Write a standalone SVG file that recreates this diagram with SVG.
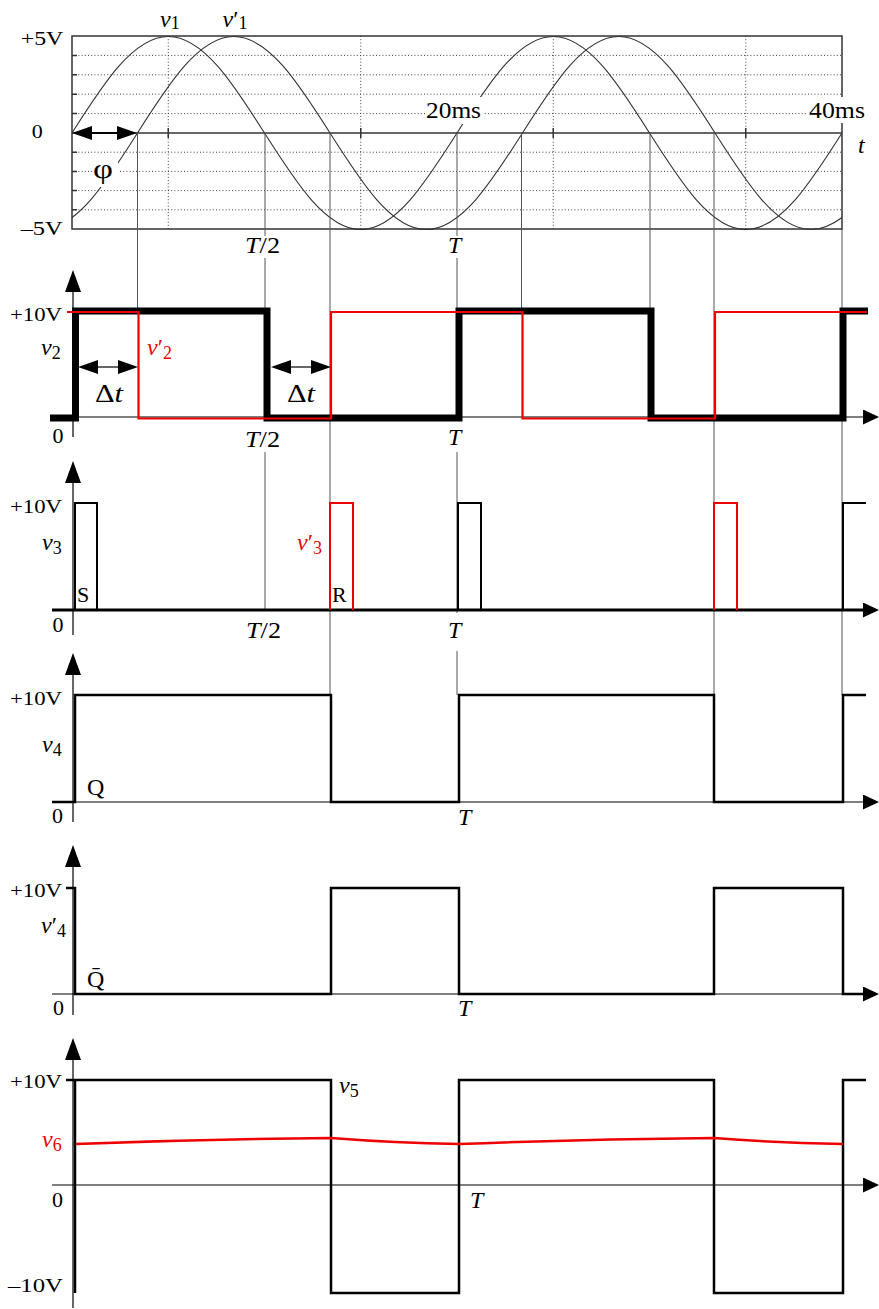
<svg xmlns="http://www.w3.org/2000/svg" width="879" height="1309" viewBox="0 0 879 1309">
<style>
.t{font-family:"Liberation Serif","Times New Roman",serif;fill:#000}
.r{fill:#e00}
.it{font-style:italic}
.sub{font-size:18px;font-style:normal}
.v{font-size:24px}
.n{font-size:19px}
.z{font-size:22px}
.T{font-size:24px;font-style:italic}
.g{stroke:#555;stroke-width:1;fill:none}
.ax{stroke:#000;stroke-width:1.2;fill:none}
.wf{stroke:#000;stroke-width:2.5;fill:none}
.wr{stroke:#e00;stroke-width:2.2;fill:none}
.dot{stroke:#444;stroke-width:1;stroke-dasharray:1 2.2;fill:none}
.sin{stroke:#333;stroke-width:1.1;fill:none}
.bx{stroke:#333;stroke-width:1.5;fill:none}
.bg{fill:#fff}
</style>
<defs>
<clipPath id="scopeclip"><rect x="72" y="30" width="770" height="205"/></clipPath>
<marker id="ya" markerUnits="userSpaceOnUse" viewBox="0 0 22 16" markerWidth="22" markerHeight="16" refX="0" refY="8" orient="auto"><path d="M0,0 L22,8 L0,16 z" fill="#000"/></marker>
<marker id="xa" markerUnits="userSpaceOnUse" viewBox="0 0 16 15" markerWidth="16" markerHeight="15" refX="0" refY="7.5" orient="auto"><path d="M0,0 L16,7.5 L0,15 z" fill="#000"/></marker>
<marker id="da" markerUnits="userSpaceOnUse" viewBox="0 0 20 14" markerWidth="20" markerHeight="14" refX="0" refY="7" orient="auto-start-reverse"><path d="M0,0 L20,7 L0,14 z" fill="#000"/></marker>
</defs>
<rect width="879" height="1309" fill="#fff"/>

<g id="scope">
  <g class="dot">
    <path d="M72,55.4H842M72,74.8H842M72,94.2H842M72,113.6H842M72,152.2H842M72,171.4H842M72,190.6H842M72,209.8H842"/>
    <path d="M168.25,36V229M360.75,36V229M553.25,36V229M745.75,36V229"/>
  </g>
  <path class="bx" d="M72,55.4h5M72,74.8h5M72,94.2h5M72,113.6h5M72,152.2h5M72,171.4h5M72,190.6h5M72,209.8h5M168.25,128v10M360.75,128v10M553.25,128v10M745.75,128v10"/>
  <rect class="bx" x="72" y="36" width="770" height="193"/>
  <line class="bx" x1="72" y1="133" x2="842" y2="133"/>
  <g clip-path="url(#scopeclip)" class="sin">
    <path id="v1" d="M72,133 c31.39,-49.44 61.41,-96.5 96.25,-96.5 c34.84,0 64.86,47.06 96.25,96.5 c31.39,49.44 61.41,96.5 96.25,96.5 c34.84,0 64.86,-47.06 96.25,-96.5 c31.39,-49.44 61.41,-96.5 96.25,-96.5 c34.84,0 64.86,47.06 96.25,96.5 c31.39,49.44 61.41,96.5 96.25,96.5 c34.84,0 64.86,-47.06 96.25,-96.5"/>
    <path id="v1p" d="M-247.5,133 c31.39,-49.44 61.41,-96.5 96.25,-96.5 c34.84,0 64.86,47.06 96.25,96.5 c31.39,49.44 61.41,96.5 96.25,96.5 c34.84,0 64.86,-47.06 96.25,-96.5 c31.39,-49.44 61.41,-96.5 96.25,-96.5 c34.84,0 64.86,47.06 96.25,96.5 c31.39,49.44 61.41,96.5 96.25,96.5 c34.84,0 64.86,-47.06 96.25,-96.5 c31.39,-49.44 61.41,-96.5 96.25,-96.5 c34.84,0 64.86,47.06 96.25,96.5 c31.39,49.44 61.41,96.5 96.25,96.5 c34.84,0 64.86,-47.06 96.25,-96.5"/>
  </g>
  <rect class="bg" x="425" y="97" width="58" height="27"/>
  <rect class="bg" x="806" y="97" width="61" height="26"/>
  <rect class="bg" x="94" y="156" width="24" height="31"/>
</g>

<g id="connectors" class="g">
  <line x1="137.5" y1="133" x2="137.5" y2="312"/>
  <line x1="265" y1="133" x2="265" y2="610"/>
  <line x1="330" y1="133" x2="330" y2="695"/>
  <line x1="457" y1="133" x2="457" y2="695"/>
  <line x1="521.5" y1="133" x2="521.5" y2="312"/>
  <line x1="650" y1="133" x2="650" y2="312"/>
  <line x1="714" y1="133" x2="714" y2="695"/>
  <line x1="842" y1="229" x2="842" y2="695"/>
</g>

<g id="label-backgrounds">
  <rect class="bg" x="243" y="236" width="40" height="22"/>
  <rect class="bg" x="446" y="236" width="19" height="22"/>
  <rect class="bg" x="243" y="420" width="40" height="32"/>
  <rect class="bg" x="446" y="420" width="19" height="32"/>
  <rect class="bg" x="446" y="613" width="19" height="38"/>
</g>

<g id="scope-labels">
  <line x1="92" y1="133" x2="117" y2="133" stroke="#000" stroke-width="2" marker-start="url(#da)" marker-end="url(#da)"/>
  <text class="t v" x="160" y="27"><tspan class="it">v</tspan><tspan class="sub" dy="2">1</tspan></text>
  <text class="t v" x="222.5" y="27"><tspan class="it">v</tspan>′<tspan class="sub" dy="2">1</tspan></text>
  <text class="t n" x="20.7" y="45" textLength="42.6" lengthAdjust="spacingAndGlyphs">+5V</text>
  <text class="t n" x="31.7" y="138.3" textLength="11" lengthAdjust="spacingAndGlyphs">0</text>
  <text class="t n" x="20.7" y="235" textLength="42" lengthAdjust="spacingAndGlyphs">–5V</text>
  <text class="t" x="93" y="178" font-size="28" textLength="20" lengthAdjust="spacingAndGlyphs">φ</text>
  <text class="t" x="245" y="253" font-size="24" textLength="35" lengthAdjust="spacingAndGlyphs"><tspan class="it">T</tspan>/2</text>
  <text class="t T" x="448" y="253">T</text>
  <text class="t" x="426" y="118" font-size="24" textLength="55" lengthAdjust="spacingAndGlyphs">20ms</text>
  <text class="t" x="809" y="118" font-size="24" textLength="56" lengthAdjust="spacingAndGlyphs">40ms</text>
  <text class="t T" x="858" y="153">t</text>
</g>

<g id="panel-v2">
  <line class="ax" x1="73" y1="437" x2="73" y2="292" marker-end="url(#ya)"/>
  <line class="ax" x1="50" y1="417" x2="863" y2="417" marker-end="url(#xa)"/>
  <path d="M50,418 H75.5 V311 H267 V418 H459 V311 H651 V418 H843 V311 H868" stroke="#000" stroke-width="7" fill="none"/>
  <path class="wr" d="M67,312 H138.5 V418.5 H331 V312 H522.5 V418.5 H715 V312 H867"/>
  <line x1="98" y1="367" x2="118" y2="367" stroke="#000" stroke-width="1.2" marker-start="url(#da)" marker-end="url(#da)"/>
  <line x1="291" y1="367" x2="311" y2="367" stroke="#000" stroke-width="1.2" marker-start="url(#da)" marker-end="url(#da)"/>
  <text class="t n" x="10" y="321" textLength="52" lengthAdjust="spacingAndGlyphs">+10V</text>
  <text class="t v" x="41" y="355"><tspan class="it">v</tspan><tspan class="sub" dy="4">2</tspan></text>
  <text class="t v r" x="147" y="355"><tspan class="it">v</tspan>′<tspan class="sub" dy="4">2</tspan></text>
  <text class="t" x="95" y="402" font-size="25" textLength="28" lengthAdjust="spacingAndGlyphs">Δ<tspan class="it">t</tspan></text>
  <text class="t" x="287" y="402" font-size="25" textLength="28" lengthAdjust="spacingAndGlyphs">Δ<tspan class="it">t</tspan></text>
  <text class="t z" x="52.5" y="443">0</text>
  <text class="t" x="245" y="447" font-size="24" textLength="35" lengthAdjust="spacingAndGlyphs"><tspan class="it">T</tspan>/2</text>
  <text class="t T" x="448" y="445">T</text>
</g>

<g id="panel-v3">
  <line class="ax" x1="73" y1="635" x2="73" y2="483" marker-end="url(#ya)"/>
  <line x1="52" y1="610" x2="863" y2="610" stroke="#000" stroke-width="3" marker-end="url(#xa)"/>
  <path stroke="#000" stroke-width="2" fill="none" d="M75,610 V503 H97 V610 M458,610 V503 H481 V610 M843,610 V503 H866"/>
  <path stroke="#e00" stroke-width="2" fill="none" d="M330,610 V503 H353 V610 M714,610 V503 H737 V610"/>
  <text class="t n" x="10" y="513" textLength="52" lengthAdjust="spacingAndGlyphs">+10V</text>
  <text class="t v" x="42" y="550"><tspan class="it">v</tspan><tspan class="sub" dy="4">3</tspan></text>
  <text class="t v r" x="297" y="550"><tspan class="it">v</tspan>′<tspan class="sub" dy="4">3</tspan></text>
  <text class="t" x="77" y="602" font-size="22">S</text>
  <text class="t" x="332" y="602" font-size="22">R</text>
  <text class="t z" x="52.5" y="632">0</text>
  <text class="t" x="246" y="638" font-size="24" textLength="35" lengthAdjust="spacingAndGlyphs"><tspan class="it">T</tspan>/2</text>
  <text class="t T" x="448" y="638">T</text>
</g>

<g id="panel-v4">
  <line class="ax" x1="73" y1="822" x2="73" y2="675" marker-end="url(#ya)"/>
  <line class="ax" x1="52" y1="802" x2="863" y2="802" marker-end="url(#xa)"/>
  <path class="wf" d="M52,802 H75 V695 H331 V802 H459 V695 H714 V802 H843 V695 H866"/>
  <text class="t n" x="10" y="705" textLength="52" lengthAdjust="spacingAndGlyphs">+10V</text>
  <text class="t v" x="42" y="752"><tspan class="it">v</tspan><tspan class="sub" dy="4">4</tspan></text>
  <text class="t" x="87" y="795" font-size="24">Q</text>
  <text class="t z" x="52" y="823">0</text>
  <text class="t T" x="458" y="825">T</text>
</g>

<g id="panel-v4p">
  <line class="ax" x1="73" y1="1015" x2="73" y2="867" marker-end="url(#ya)"/>
  <line class="ax" x1="52" y1="994" x2="863" y2="994" marker-end="url(#xa)"/>
  <path class="wf" d="M66,888 H75 V994 H331 V888 H459 V994 H714 V888 H843 V994 H863"/>
  <text class="t n" x="10" y="897" textLength="52" lengthAdjust="spacingAndGlyphs">+10V</text>
  <text class="t v" x="41" y="933"><tspan class="it">v</tspan>′<tspan class="sub" dy="4">4</tspan></text>
  <text class="t" x="87" y="987" font-size="24">Q̄</text>
  <text class="t z" x="53" y="1015">0</text>
  <text class="t T" x="458" y="1016">T</text>
</g>

<g id="panel-v5">
  <line class="ax" x1="73" y1="1308" x2="73" y2="1060" marker-end="url(#ya)"/>
  <line class="ax" x1="52" y1="1185" x2="863" y2="1185" marker-end="url(#xa)"/>
  <path class="wf" d="M66,1080 H75 M75,1293 V1080 H331 V1293 H459 V1080 H714 V1293 H843 V1080 H866"/>
  <path stroke="#e00" stroke-width="2.5" fill="none" d="M76,1144 Q203,1139 331,1138 Q395,1143 459,1144 Q586,1139 714,1138 Q778,1143 843,1144"/>
  <text class="t n" x="10" y="1088" textLength="52" lengthAdjust="spacingAndGlyphs">+10V</text>
  <text class="t v" x="339" y="1093"><tspan class="it">v</tspan><tspan class="sub" dy="4">5</tspan></text>
  <text class="t v r" x="42" y="1147"><tspan class="it">v</tspan><tspan class="sub" dy="4">6</tspan></text>
  <text class="t z" x="52" y="1207">0</text>
  <text class="t T" x="470" y="1208">T</text>
  <text class="t n" x="8" y="1292" textLength="55" lengthAdjust="spacingAndGlyphs">–10V</text>
</g>
</svg>
